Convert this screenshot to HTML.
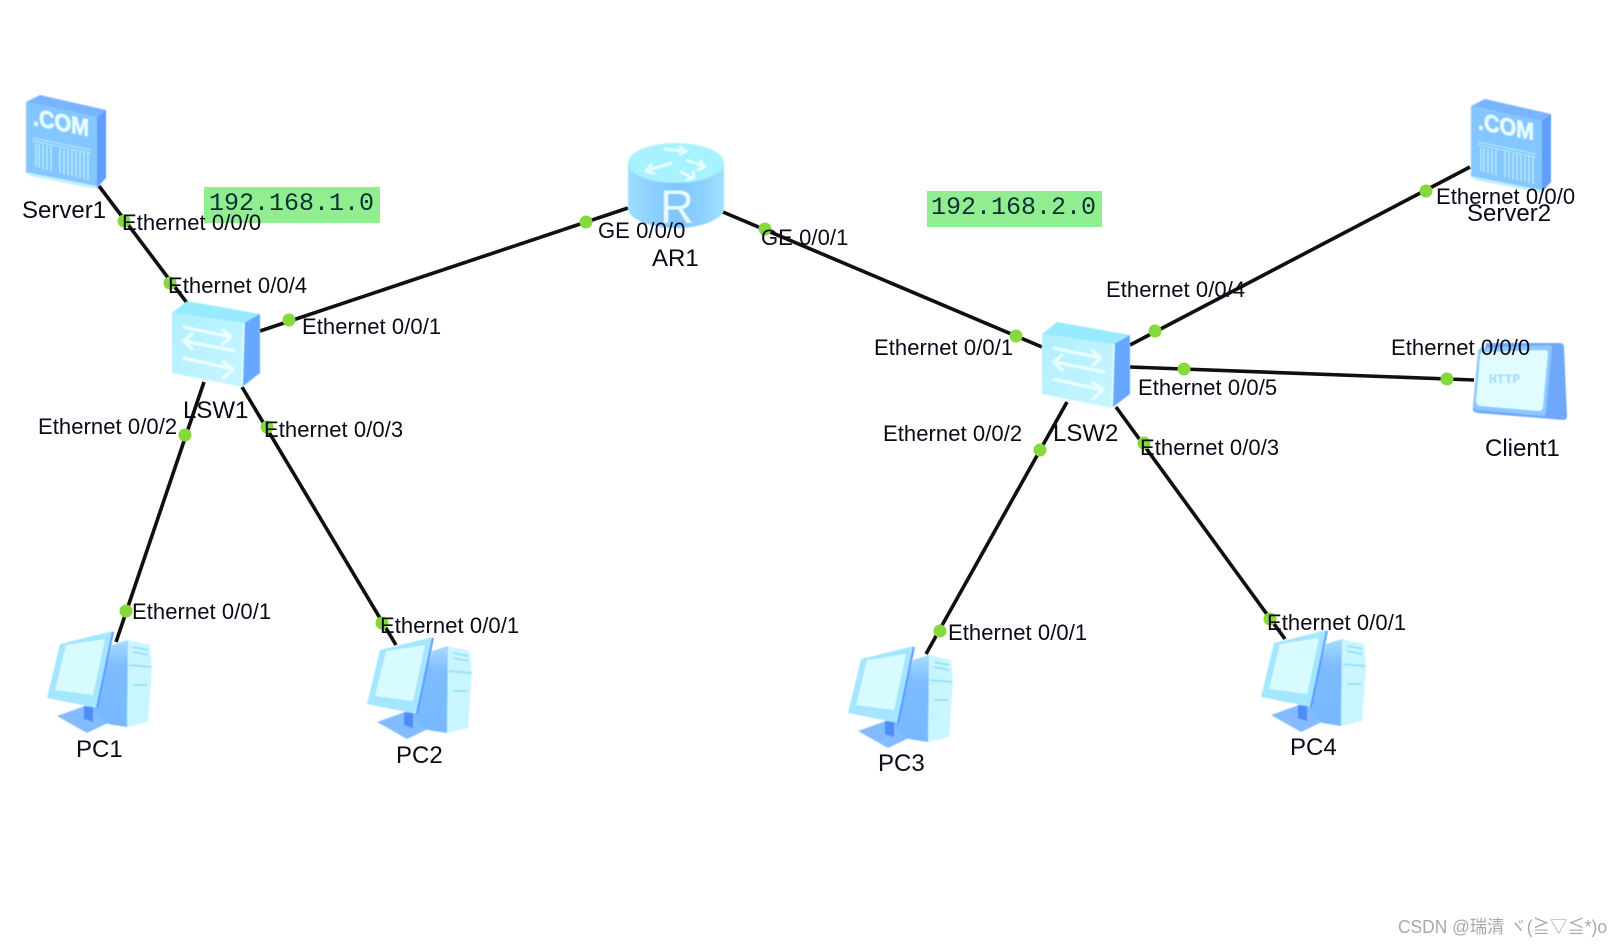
<!DOCTYPE html>
<html><head><meta charset="utf-8"><style>
html,body{margin:0;padding:0;background:#fff;width:1622px;height:946px;overflow:hidden}
svg{display:block}
text{font-family:"Liberation Sans","Noto Sans CJK SC",sans-serif;fill:#0a0a18}
.e{font-size:22px;letter-spacing:.07px}
.n{font-size:24px}
.m{font-family:"Liberation Mono",monospace;font-size:25px;fill:#0c3034}
.ic{filter:blur(.4px)}
</style></head><body>
<svg width="1622" height="946" viewBox="0 0 1622 946" xmlns="http://www.w3.org/2000/svg">
<defs>
<linearGradient id="rb" x1="0" x2="1" y1="0" y2="0">
<stop offset="0" stop-color="#9adfff"/><stop offset=".25" stop-color="#8fd0ff"/><stop offset=".5" stop-color="#7fc6ff"/><stop offset=".8" stop-color="#8fd2ff"/><stop offset="1" stop-color="#a2e2ff"/>
</linearGradient>
<linearGradient id="sw" x1="0" x2="1" y1="0" y2="1">
<stop offset="0" stop-color="#b0efff"/><stop offset="1" stop-color="#c8f6ff"/>
</linearGradient>
<linearGradient id="tw" x1="0" x2="0" y1="0" y2="1">
<stop offset="0" stop-color="#a8dcff"/><stop offset=".3" stop-color="#7dbcff"/><stop offset="1" stop-color="#78b8ff"/>
</linearGradient>
<g id="pc">
<polygon points="57,716 85,706 98,708 108,723 87,733" fill="#82bcff"/>
<polygon points="84,706 93,707 93,722 84,719" fill="#4f8cf5"/>
<polygon points="112,645 128,640 127,727 108,724 93,712" fill="url(#tw)"/>
<polygon points="128,640 150,645 152,667 148,722 127,727" fill="#c8f5ff"/>
<path d="M133,647l15,3M133,652l15,3M133,685l14,0M129,665l22,2" stroke="#8fdcf8" stroke-width="1.5" fill="none"/>
<polygon points="60,644 113,631 97,708 47,698" fill="#a4e6ff"/>
<polygon points="66,645 105,639 93,695 55,690" fill="#d8fbff"/>
<line x1="113" y1="632" x2="97" y2="708" stroke="#5b9bff" stroke-width="2"/>
</g>
<g id="srv">
<polygon points="26,102 40,95 106,110 97,117" fill="#78b4ff"/>
<polygon points="26,102 97,117 97,186 26,173" fill="#84c6ff"/>
<polygon points="97,117 106,110 106,178 97,188" fill="#5f9dff"/>
<polygon points="26,172 97,186 97,189 30,176" fill="#c0f0ff"/>
<path d="M33,138l58,12M33,141l58,12" stroke="#b4e6ff" stroke-width="1.2" fill="none"/>
<path d="M36,144v23M39,144v24M43,145v24M47,146v24M51,146v25M60,148v25M64,149v25M68,150v25M72,150v26M76,151v26M80,152v26M84,152v27M88,153v27" stroke="#b8ecff" stroke-width="1.5" fill="none"/>
</g>
<g id="sws">
<polygon points="172,313 187,301 260,314 244,323" fill="#98eaff"/>
<polygon points="172,313 244,323 242,387 172,373" fill="url(#sw)"/>
<polygon points="244,323 260,314 260,373 242,387" fill="#66a8ff"/>
<line x1="244" y1="323" x2="242" y2="387" stroke="#dffcff" stroke-width="2"/>
<g fill="none" stroke="#eafeff" stroke-width="3.4" stroke-linejoin="round">
<path d="M183,327L231,337L222,345M222,329L231,337"/>
<path d="M235,351L184,341L193,333M193,350L184,341"/>
<path d="M183,358L233,369L222,379M222,361L233,369"/>
</g>
</g>
</defs>
<rect width="1622" height="946" fill="#fff"/>

<rect x="204" y="187" width="176" height="36" fill="#90ee90"/>
<rect x="927" y="191" width="175" height="36" fill="#90ee90"/>

<g stroke="#101010" stroke-width="3.6" fill="none">
<line x1="99" y1="186" x2="187" y2="303"/>
<line x1="260" y1="331" x2="628" y2="208"/>
<line x1="204" y1="382" x2="116" y2="642"/>
<line x1="242" y1="387" x2="396" y2="645"/>
<line x1="723" y1="212" x2="1042" y2="347"/>
<line x1="1130" y1="345" x2="1470" y2="167"/>
<line x1="1130" y1="367" x2="1474" y2="380"/>
<line x1="1067" y1="402" x2="926" y2="654"/>
<line x1="1116" y1="407" x2="1285" y2="639"/>
</g>

<g class="ic">
<!-- router -->
<path d="M628,163V208A48,20 0 0 0 724,208V163Z" fill="url(#rb)"/>
<ellipse cx="676" cy="163" rx="48" ry="20" fill="#a8f2ff"/>
<g fill="none" stroke="#e4fdff" stroke-width="3" stroke-linejoin="round">
<path d="M664,149L683,151M679,146L686,151L679,155"/>
<path d="M686,160L704,166M700,160L705,167L697,170"/>
<path d="M672,163L648,170M652,164L646,171L655,174"/>
<path d="M680,171L692,178M686,180L694,178L693,171"/>
</g>
<text x="660" y="223" style="font-size:47px;fill:#e8fbff">R</text>

<use href="#srv"/>
<use href="#srv" transform="translate(1445,4)"/>
<text transform="matrix(1,.2,0,1,33,125)" style="font-size:24px;font-weight:bold;fill:#e4fbff;stroke:#e4fbff;stroke-width:.9" textLength="56" lengthAdjust="spacingAndGlyphs">.COM</text>
<text transform="matrix(1,.2,0,1,1478,129)" style="font-size:24px;font-weight:bold;fill:#e4fbff;stroke:#e4fbff;stroke-width:.9" textLength="56" lengthAdjust="spacingAndGlyphs">.COM</text>

<use href="#sws"/>
<use href="#sws" transform="translate(870,21)"/>

<use href="#pc"/>
<use href="#pc" transform="translate(320,6)"/>
<use href="#pc" transform="translate(801,15)"/>
<use href="#pc" transform="translate(1214,-1)"/>

<!-- client -->
<path d="M1486,343L1560,343Q1564,343 1564,347L1567,416Q1567,420 1563,420L1478,413Q1472,412 1473,408Z" fill="#6fa8f8"/>
<path d="M1482,348L1549,345Q1553,345 1552,349L1546,412Q1546,416 1542,416L1477,410Q1473,409 1473,405L1478,352Q1478,348 1482,348Z" fill="#8cc8ff"/>
<path d="M1484,352L1544,350Q1549,350 1548,354L1543,407Q1543,411 1539,411L1480,406Q1476,405 1476,401L1480,356Q1480,352 1484,352Z" fill="#e0fcff"/>
<text x="1489" y="383" style="font-family:'Liberation Mono',monospace;font-size:13px;fill:#9fdcf6;font-weight:bold">HTTP</text>
</g>

<g fill="#86d93c">
<circle cx="124" cy="221" r="6.5"/><circle cx="170" cy="283" r="6.5"/>
<circle cx="289" cy="320" r="6.5"/><circle cx="586" cy="222" r="6.5"/>
<circle cx="185" cy="435" r="6.5"/><circle cx="126" cy="611" r="6.5"/>
<circle cx="267" cy="427" r="6.5"/><circle cx="382" cy="623" r="6.5"/>
<circle cx="765" cy="229" r="6.5"/><circle cx="1016" cy="336" r="6.5"/>
<circle cx="1155" cy="331" r="6.5"/><circle cx="1426" cy="191" r="6.5"/>
<circle cx="1184" cy="369" r="6.5"/><circle cx="1447" cy="379" r="6.5"/>
<circle cx="1040" cy="450" r="6.5"/><circle cx="940" cy="631" r="6.5"/>
<circle cx="1144" cy="443" r="6.5"/><circle cx="1270" cy="619" r="6.5"/>
</g>

<text class="m" x="209" y="210">192.168.1.0</text>
<text class="m" x="931" y="214">192.168.2.0</text>

<text class="n" x="22" y="218">Server1</text>
<text class="n" x="183" y="418">LSW1</text>
<text class="n" x="652" y="266">AR1</text>
<text class="n" x="1053" y="441">LSW2</text>
<text class="n" x="1467" y="221">Server2</text>
<text class="n" x="1485" y="456">Client1</text>
<text class="n" x="76" y="757">PC1</text>
<text class="n" x="396" y="763">PC2</text>
<text class="n" x="878" y="771">PC3</text>
<text class="n" x="1290" y="755">PC4</text>

<g class="lbl">
<text class="e" x="122" y="230">Ethernet 0/0/0</text>
<text class="e" x="168" y="293">Ethernet 0/0/4</text>
<text class="e" x="302" y="334">Ethernet 0/0/1</text>
<text class="e" x="38" y="434">Ethernet 0/0/2</text>
<text class="e" x="264" y="437">Ethernet 0/0/3</text>
<text class="e" x="132" y="619">Ethernet 0/0/1</text>
<text class="e" x="380" y="633">Ethernet 0/0/1</text>
<text class="e" x="598" y="238">GE 0/0/0</text>
<text class="e" x="761" y="245">GE 0/0/1</text>
<text class="e" x="874" y="355">Ethernet 0/0/1</text>
<text class="e" x="883" y="441">Ethernet 0/0/2</text>
<text class="e" x="1106" y="297">Ethernet 0/0/4</text>
<text class="e" x="1436" y="204">Ethernet 0/0/0</text>
<text class="e" x="1391" y="355">Ethernet 0/0/0</text>
<text class="e" x="1138" y="395">Ethernet 0/0/5</text>
<text class="e" x="1140" y="455">Ethernet 0/0/3</text>
<text class="e" x="948" y="640">Ethernet 0/0/1</text>
<text class="e" x="1267" y="630">Ethernet 0/0/1</text>
</g>

<text x="1398" y="933" style="font-size:18px;fill:#a8a8a8" textLength="209" lengthAdjust="spacingAndGlyphs">CSDN @瑞清 ヾ(≧▽≦*)o</text>
</svg>
</body></html>
